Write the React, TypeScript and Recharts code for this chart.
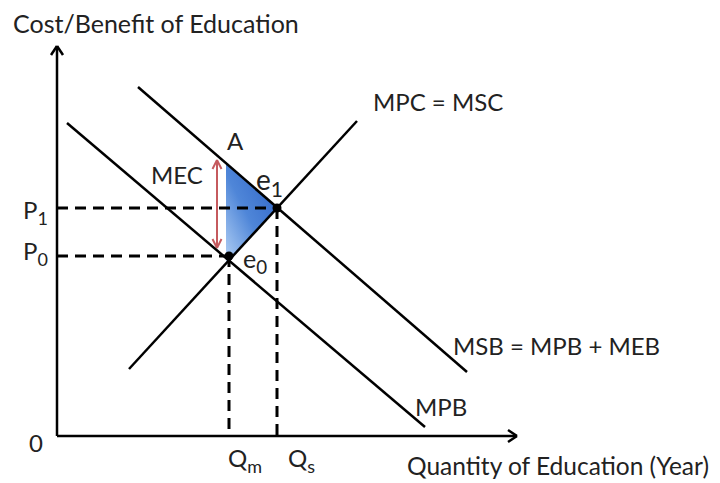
import React from "react";
import {
  ComposedChart,
  Line,
  Area,
  XAxis,
  YAxis,
  ReferenceLine,
  ReferenceDot,
} from "recharts";

// chart units: quantity of education (x), cost/benefit (y)
const mpbQ = [1.0, 36.8];
const mpbP = [31.3, 0.9];
const msbQ = [8.1, 41.0];
const msbP = [34.9, 6.4];
const mpcQ = [7.2, 30.0];
const mpcP = [6.7, 31.5];

// equilibria e0 (private) and e1 (social)
const eqQ = [17.2, 22.0];
const eqP = [18.0, 22.8];

// shaded welfare triangle between MSB and MPC
const triQ = [16.9, 22.0];
const triLow = [17.3, 22.8];
const triHigh = [27.3, 22.8];

// MEC gap (red double arrow)
const mecQ = 16.0;
const mecTop = 27.6;
const mecBottom = 18.8;

const xMax = 46;
const yMax = 39;

const toRows = (qs: number[], ps: number[]) => qs.map((q, i) => ({ q, p: ps[i] }));
const mpbData = toRows(mpbQ, mpbP);
const msbData = toRows(msbQ, msbP);
const mpcData = toRows(mpcQ, mpcP);
const triData = triQ.map((q, i) => ({ q, band: [triLow[i], triHigh[i]] }));

const FONT = "Lato, 'Open Sans', sans-serif";
const INK = "#222";

// text label drawn at a reference point, with optional subscript
const label =
  (main: string, sub?: string, size = 24, anchor: "start" | "middle" = "start") =>
  (props: any) =>
    (
      <text
        x={props.cx}
        y={props.cy}
        fontFamily={FONT}
        fontSize={size}
        fill={INK}
        textAnchor={anchor}
      >
        {main}
        {sub ? (
          <tspan fontSize={size * 0.75} dy={size * 0.25}>
            {sub}
          </tspan>
        ) : null}
      </text>
    );

const dash = { stroke: "#000", strokeWidth: 3, strokeDasharray: "11 7" };
const axis = { stroke: "#000", strokeWidth: 2.5 };
const red = { stroke: "#c55a5e", strokeWidth: 2 };

export default function App() {
  return (
    <div style={{ position: "absolute", left: 0, top: 0, background: "#fff" }}>
      <ComposedChart
        width={720}
        height={483}
        margin={{ top: 0, right: 0, bottom: 0, left: 0 }}
      >
        <defs>
          <linearGradient id="triFill" x1="1" y1="0" x2="0" y2="1">
            <stop offset="0%" stopColor="#2a5fc4" />
            <stop offset="55%" stopColor="#4f86d8" />
            <stop offset="100%" stopColor="#b3d1f5" />
          </linearGradient>
        </defs>
        <XAxis type="number" dataKey="q" domain={[-5.7, 66.3]} allowDataOverflow hide />
        <YAxis type="number" domain={[-4.7, 43.6]} allowDataOverflow hide />

        {/* welfare gain triangle */}
        <Area
          data={triData}
          dataKey="band"
          type="linear"
          stroke="none"
          fill="url(#triFill)"
          fillOpacity={1}
          isAnimationActive={false}
        />

        {/* dashed guides */}
        <ReferenceLine segment={[{ x: 0, y: eqP[1] }, { x: eqQ[1], y: eqP[1] }]} {...dash} />
        <ReferenceLine segment={[{ x: 0, y: eqP[0] }, { x: eqQ[0], y: eqP[0] }]} {...dash} />
        <ReferenceLine segment={[{ x: eqQ[0], y: eqP[0] }, { x: eqQ[0], y: 0 }]} {...dash} />
        <ReferenceLine segment={[{ x: eqQ[1], y: eqP[1] }, { x: eqQ[1], y: 0 }]} {...dash} />

        {/* axes with arrowheads */}
        <ReferenceLine segment={[{ x: 0, y: 0 }, { x: xMax, y: 0 }]} {...axis} />
        <ReferenceLine segment={[{ x: 0, y: 0 }, { x: 0, y: yMax }]} {...axis} />
        <ReferenceLine segment={[{ x: xMax, y: 0 }, { x: xMax - 0.9, y: 0.6 }]} {...axis} />
        <ReferenceLine segment={[{ x: xMax, y: 0 }, { x: xMax - 0.9, y: -0.6 }]} {...axis} />
        <ReferenceLine segment={[{ x: 0, y: yMax }, { x: -0.6, y: yMax - 0.9 }]} {...axis} />
        <ReferenceLine segment={[{ x: 0, y: yMax }, { x: 0.6, y: yMax - 0.9 }]} {...axis} />

        {/* MEC double arrow */}
        <ReferenceLine segment={[{ x: mecQ, y: mecTop }, { x: mecQ, y: mecBottom }]} {...red} />
        <ReferenceLine segment={[{ x: mecQ, y: mecTop }, { x: mecQ - 0.45, y: mecTop - 0.9 }]} {...red} />
        <ReferenceLine segment={[{ x: mecQ, y: mecTop }, { x: mecQ + 0.45, y: mecTop - 0.9 }]} {...red} />
        <ReferenceLine segment={[{ x: mecQ, y: mecBottom }, { x: mecQ - 0.45, y: mecBottom + 0.9 }]} {...red} />
        <ReferenceLine segment={[{ x: mecQ, y: mecBottom }, { x: mecQ + 0.45, y: mecBottom + 0.9 }]} {...red} />

        {/* curves */}
        <Line data={msbData} dataKey="p" type="linear" stroke="#000" strokeWidth={2.5} dot={false} activeDot={false} isAnimationActive={false} />
        <Line data={mpcData} dataKey="p" type="linear" stroke="#000" strokeWidth={2.5} dot={false} activeDot={false} isAnimationActive={false} />
        <Line data={mpbData} dataKey="p" type="linear" stroke="#000" strokeWidth={2.5} dot={false} activeDot={false} isAnimationActive={false} />

        {/* equilibrium points */}
        <ReferenceDot x={eqQ[0]} y={eqP[0]} r={4.5} fill="#000" stroke="none" />
        <ReferenceDot x={eqQ[1]} y={eqP[1]} r={4.5} fill="#000" stroke="none" />

        {/* labels */}
        <ReferenceDot x={-4.4} y={40.3} shape={label("Cost/Benefit of Education", undefined, 25)} />
        <ReferenceDot x={35.0} y={-3.9} shape={label("Quantity of Education (Year)", undefined, 24.5)} />
        <ReferenceDot x={-2.1} y={-1.6} shape={label("0", undefined, 24, "middle")} />
        <ReferenceDot x={-3.4} y={21.7} shape={label("P", "1")} />
        <ReferenceDot x={-3.4} y={17.6} shape={label("P", "0")} />
        <ReferenceDot x={17.1} y={-3.1} shape={label("Q", "m")} />
        <ReferenceDot x={23.1} y={-3.1} shape={label("Q", "s")} />
        <ReferenceDot x={35.8} y={2.0} shape={label("MPB")} />
        <ReferenceDot x={39.6} y={8.1} shape={label("MSB = MPB + MEB")} />
        <ReferenceDot x={31.6} y={32.5} shape={label("MPC = MSC")} />
        <ReferenceDot x={17.0} y={28.6} shape={label("A")} />
        <ReferenceDot x={9.4} y={25.2} shape={label("MEC")} />
        <ReferenceDot x={19.9} y={24.6} shape={label("e", "1", 28)} />
        <ReferenceDot x={18.6} y={16.8} shape={label("e", "0", 25)} />
      </ComposedChart>
    </div>
  );
}
